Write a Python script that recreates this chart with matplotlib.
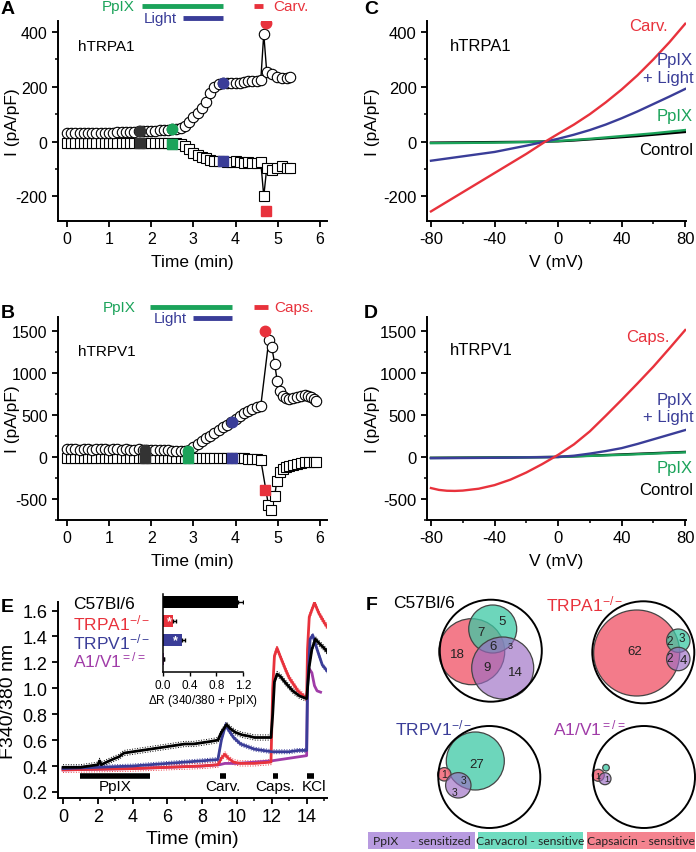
import matplotlib
matplotlib.use('Agg')
import matplotlib.pyplot as plt
from matplotlib.patches import Circle, Rectangle
from matplotlib.ticker import MultipleLocator, FormatStrFormatter

plt.rcParams['font.family'] = ['Liberation Sans', 'DejaVu Sans']
plt.rcParams['mathtext.fontset'] = 'custom'
plt.rcParams['mathtext.rm'] = 'Liberation Sans'
plt.rcParams['mathtext.it'] = 'Liberation Sans:italic'
plt.rcParams['mathtext.bf'] = 'Liberation Sans:bold'
plt.rcParams['mathtext.default'] = 'regular'
plt.rcParams['axes.unicode_minus'] = False

# ---------------- DATA ----------------
# Panel A (hTRPA1 time course)
a_t = [0.0, 0.1, 0.2, 0.3, 0.4, 0.5, 0.6, 0.7, 0.8, 0.9,
       1.0, 1.1, 1.2, 1.3, 1.4, 1.5, 1.6, 1.7, 1.8, 1.9,
       2.0, 2.1, 2.2, 2.3, 2.4, 2.5, 2.6, 2.7, 2.8, 2.9,
       3.0, 3.1, 3.2, 3.3, 3.4, 3.5, 3.6, 3.7, 3.8, 3.9,
       4.0, 4.1, 4.2, 4.3, 4.4, 4.5, 4.6,
       4.67, 4.74, 4.86, 4.98, 5.1, 5.21, 5.29]
a_circ = [30, 30, 30, 31, 31, 31, 32, 32, 32, 33,
          33, 33, 34, 34, 35, 35, 36, 37, 38, 38,
          39, 40, 41, 42, 43, 45, 45, 50, 58, 70,
          88, 105, 122, 145, 178, 200, 210, 213, 212, 213,
          214, 215, 218, 220, 222, 222, 225,
          393, 255, 245, 235, 233, 233, 237]
a_sq = [-4, -5, -4, -5, -5, -4, -5, -5, -4, -5,
        -5, -4, -5, -5, -4, -5, -5, -5, -5, -4,
        -5, -5, -5, -6, -6, -8, -7, -10, -17, -28,
        -40, -48, -55, -60, -67, -72, -72, -70, -73, -75,
        -72, -76, -78, -75, -80, -78, -75,
        -200, -98, -105, -95, -91, -95, -97]
a_fill_t = [1.73, 2.49, 3.70]
a_fill_circ = [38, 45, 213]
a_fill_sq = [-5, -8, -70]
a_stim_t = 4.72
a_stim_circ = 433
a_stim_sq = -253

# Panel B (hTRPV1 time course)
b_t = [0.0, 0.1, 0.2, 0.3, 0.4, 0.5, 0.6, 0.7, 0.8, 0.9,
       1.0, 1.1, 1.2, 1.3, 1.4, 1.5, 1.6, 1.7, 1.8, 1.9,
       2.0, 2.1, 2.2, 2.3, 2.4, 2.5, 2.6, 2.7, 2.8, 2.9,
       3.0, 3.1, 3.2, 3.3, 3.4, 3.5, 3.6, 3.7, 3.8, 3.9,
       4.0, 4.1, 4.2, 4.3, 4.4, 4.5, 4.6,
       4.79, 4.86, 4.93, 4.99, 5.05, 5.12, 5.2, 5.28, 5.37, 5.47,
       5.56, 5.64, 5.72, 5.8, 5.86, 5.92]
b_circ = [95, 90, 96, 86, 92, 97, 88, 93, 90, 96,
          88, 92, 94, 85, 91, 88, 86, 92, 88, 85,
          86, 82, 84, 80, 78, 76, 74, 72, 70, 80,
          120, 150, 190, 225, 255, 290, 325, 357, 385, 417,
          455, 490, 520, 545, 570, 590, 610,
          1390, 1310, 1105, 900, 786, 726, 700, 690, 700, 714,
          730, 738, 725, 714, 690, 670]
b_sq_t = [0.0, 0.1, 0.2, 0.3, 0.4, 0.5, 0.6, 0.7, 0.8, 0.9,
          1.0, 1.1, 1.2, 1.3, 1.4, 1.5, 1.6, 1.7, 1.8, 1.9,
          2.0, 2.1, 2.2, 2.3, 2.4, 2.5, 2.6, 2.7, 2.8, 2.9,
          3.0, 3.1, 3.2, 3.3, 3.4, 3.5, 3.6, 3.7, 3.8, 3.9,
          4.0, 4.1, 4.2, 4.3, 4.4, 4.5, 4.6,
          4.78, 4.85, 4.93, 4.98, 5.05, 5.12, 5.2, 5.28, 5.37, 5.47,
          5.56, 5.66, 5.75, 5.85, 5.92]
b_sq = [-12, -15, -13, -16, -14, -12, -15, -14, -13, -16,
        -14, -13, -15, -14, -16, -13, -15, -14, -13, -15,
        -14, -15, -13, -16, -14, -15, -13, -14, -16, -15,
        -14, -16, -15, -14, -16, -15, -17, -16, -15, -18,
        -17, -18, -16, -20, -22, -25, -36,
        -570, -630, -464, -285, -179, -140, -119, -107, -95, -83,
        -72, -65, -60, -60, -60]
b_fill_t = [1.85, 2.87, 3.91]
b_fill_circ = [88, 68, 417]
b_fill_sq = [-15, -15, -15]
b_stim_t = 4.71
b_stim_circ = 1500
b_stim_sq = -393

# Panel C (hTRPA1 I-V)
c_v = [-80, -60, -40, -20, -8, 0, 10, 20, 30, 40, 50, 60, 70, 80]
c_carv = [-255, -185, -115, -45, 0, 28, 62, 100, 143, 190, 242, 300, 362, 430]
c_light = [-70, -54, -38, -15, 0, 10, 25, 42, 62, 85, 110, 137, 164, 192]
c_ppix = [-6, -5, -4, -2, 0, 2, 6, 10, 15, 20, 25, 30, 36, 42]
c_ctrl = [-4, -3, -2, -1, 0, 1, 4, 8, 12, 16, 20, 25, 30, 35]

# Panel D (hTRPV1 I-V)
d_v = [-80, -75, -70, -65, -60, -50, -40, -30, -20, -10, 0, 10, 20, 30, 40, 50, 60, 70, 80]
d_caps = [-370, -392, -402, -404, -400, -378, -335, -270, -185, -85, 25, 150, 305, 490, 680,
          875, 1075, 1290, 1510]
d_v2 = [-80, -40, 0, 10, 20, 30, 40, 50, 60, 70, 80]
d_light = [-15, -10, 0, 15, 40, 70, 105, 155, 210, 265, 320]
d_v3 = [-80, -40, 0, 40, 80]
d_ppix = [-12, -8, 0, 25, 55]
d_ctrl = [-10, -6, 0, 30, 60]

# Panel E (Ca imaging)
e_black_t = [0, 0.5, 1.0, 1.5, 2.0, 2.1, 2.2, 2.5, 3.0, 3.2, 3.5, 4.0, 4.5, 5.0, 5.5, 6.0,
             6.5, 7.0, 7.5, 8.0, 8.5, 8.9, 9.1, 9.4, 9.6, 9.9, 10.3, 10.7, 11.0, 11.5, 11.95,
             12.05, 12.15, 12.3, 12.5, 12.8, 13.2, 13.6, 14.0, 14.05, 14.15, 14.3, 14.5,
             14.7, 15.0, 15.2]
e_black = [0.39, 0.39, 0.39, 0.40, 0.41, 0.44, 0.41, 0.43, 0.46, 0.47, 0.50, 0.51, 0.52, 0.53,
           0.54, 0.55, 0.56, 0.57, 0.57, 0.58, 0.59, 0.60, 0.66, 0.72, 0.69, 0.66, 0.64, 0.63,
           0.62, 0.62, 0.62, 0.80, 1.05, 1.11, 1.09, 1.04, 0.98, 0.94, 0.92, 1.00, 1.17, 1.30,
           1.38, 1.35, 1.31, 1.28]
e_blue_t = [0, 2, 4, 6, 8, 8.9, 9.1, 9.35, 9.5, 9.8, 10.2, 10.6, 11.0, 11.5, 12.0, 12.5,
            13.0, 13.5, 14.0, 14.05, 14.2, 14.35, 14.6, 14.9, 15.2]
e_blue = [0.38, 0.39, 0.40, 0.42, 0.44, 0.45, 0.60, 0.72, 0.68, 0.62, 0.57, 0.55, 0.53, 0.52,
          0.51, 0.51, 0.51, 0.52, 0.52, 1.00, 1.38, 1.41, 1.30, 1.18, 1.13]
e_red_t = [0, 2, 4, 6, 8, 8.9, 9.1, 9.3, 9.5, 9.8, 10.2, 11.0, 11.95, 12.05, 12.15, 12.3,
           12.5, 12.8, 13.0, 13.5, 14.0, 14.05, 14.15, 14.45, 14.7, 15.0, 15.2]
e_red = [0.37, 0.375, 0.38, 0.39, 0.40, 0.41, 0.46, 0.49, 0.46, 0.43, 0.42, 0.42, 0.43, 1.00,
         1.25, 1.31, 1.24, 1.14, 1.08, 0.98, 0.92, 1.30, 1.55, 1.66, 1.58, 1.51, 1.47]
e_purple_t = [0, 2, 4, 6, 8, 9, 9.3, 10, 11, 12, 13, 13.5, 14.0, 14.05, 14.15, 14.3, 14.45,
              14.6, 14.8]
e_purple = [0.37, 0.375, 0.38, 0.39, 0.40, 0.41, 0.42, 0.42, 0.43, 0.44, 0.46, 0.47, 0.48,
            1.05, 1.15, 1.12, 1.02, 0.98, 0.97]
e_sem_black = 0.02
e_sem_red = 0.02
e_sem_blue = 0.015
e_events = ['PpIX', 'Carv.', 'Caps.', 'KCl']
e_event_start = [1.0, 9.0, 12.05, 14.0]
e_event_end = [5.0, 9.35, 12.35, 14.45]
e_event_lbl_x = [3.0, 9.2, 12.2, 14.4]
e_groups = ['C57Bl/6', r'TRPA1$^{-/-}$', r'TRPV1$^{-/-}$', r'A1/V1$^{=/=}$']
e_dR = [1.13, 0.15, 0.28, 0.02]
e_dR_sem = [0.07, 0.05, 0.05, 0.0]

# Panel F (Venn counts)
f_titles = ['C57Bl/6', r'TRPA1$^{-/-}$', r'TRPV1$^{-/-}$', r'A1/V1$^{=/=}$']
f_c57_counts = ['5', '7', '6', '3', '18', '9', '14']
f_a1_counts = ['62', '2', '3', '2', '4']
f_v1_counts = ['27', '1', '3', '3']
f_dko_counts = ['1', '1']
f_legend = ['PpIX    - sensitized', 'Carvacrol - sensitive', 'Capsaicin - sensitive']

# ---------------- STYLE ----------------
GREEN = '#1ba35a'
BLUE = '#3a3d98'
RED = '#e8323c'
PURPLE = '#a03ca8'
DARK = '#333333'
W, H = 696, 853


def box(l, t, r, b):
    return [l / W, 1 - b / H, (r - l) / W, (b - t) / H]


def fp(x, y):
    return x / W, 1 - y / H


def style(ax, fs):
    for s in ['top', 'right']:
        ax.spines[s].set_visible(False)
    for s in ['left', 'bottom']:
        ax.spines[s].set_linewidth(1.4)
    ax.tick_params(which='major', direction='out', length=4.5, width=1.3,
                   labelsize=fs, pad=3)
    ax.tick_params(which='minor', direction='out', length=2.5, width=1.1)


def labels(ax, xl, yl, fs, xoff, yoff, hpx, wpx):
    ax.set_xlabel(xl, fontsize=fs)
    ax.set_ylabel(yl, fontsize=fs)
    ax.xaxis.set_label_coords(0.5, -xoff / hpx)
    ax.yaxis.set_label_coords(-yoff / wpx, 0.5)
    ax.xaxis.label.set_verticalalignment('center')
    ax.yaxis.label.set_verticalalignment('center')


fig = plt.figure(figsize=(6.96, 8.53), dpi=100)

# ---------------- Panel A ----------------
axA = fig.add_axes(box(58, 22, 327, 222))
style(axA, 11.5)
axA.plot(a_t, a_sq, '-s', color='k', lw=1, ms=6.5, mfc='white', mec='k', mew=0.8, zorder=2)
axA.plot(a_t, a_circ, '-o', color='k', lw=1, ms=7.5, mfc='white', mec='k', mew=0.8, zorder=2)
for t, c, s, col in zip(a_fill_t, a_fill_circ, a_fill_sq, [DARK, GREEN, BLUE]):
    axA.plot([t], [c], 'o', color=col, ms=7.5, mec=col, zorder=3)
    axA.plot([t], [s], 's', color=col, ms=6.5, mec=col, zorder=3)
axA.plot([a_stim_t], [a_stim_circ], 'o', color=RED, ms=7.5, mec=RED, zorder=3)
axA.plot([a_stim_t], [a_stim_sq], 's', color=RED, ms=6.5, mec=RED, zorder=3)
axA.set_xlim(-0.21, 6.17)
axA.set_ylim(-290, 440)
axA.set_xticks(range(0, 7))
axA.set_yticks([-200, 0, 200, 400])
axA.yaxis.set_minor_locator(MultipleLocator(100))
labels(axA, 'Time (min)', 'I (pA/pF)', 12.5, 40, 46, 200, 269)
axA.text(0.26, 349, 'hTRPA1', fontsize=11, va='center', ha='left')
kw = dict(clip_on=False, solid_capstyle='butt', lw=3.5)
axA.plot([1.78, 3.70], [495, 495], color=GREEN, **kw)
axA.plot([2.75, 3.70], [451, 451], color=BLUE, **kw)
axA.plot([4.45, 4.65], [495, 495], color=RED, **kw)
axA.text(1.61, 495, 'PpIX', color=GREEN, ha='right', va='center', fontsize=11)
axA.text(2.62, 451, 'Light', color=BLUE, ha='right', va='center', fontsize=11)
axA.text(4.90, 495, 'Carv.', color=RED, ha='left', va='center', fontsize=11)

# ---------------- Panel B ----------------
axB = fig.add_axes(box(58, 318, 327, 521))
style(axB, 11.5)
axB.plot(b_sq_t, b_sq, '-s', color='k', lw=1, ms=6.5, mfc='white', mec='k', mew=0.8, zorder=2)
axB.plot(b_t, b_circ, '-o', color='k', lw=1, ms=7.5, mfc='white', mec='k', mew=0.8, zorder=2)
for t, c, s, col in zip(b_fill_t, b_fill_circ, b_fill_sq, [DARK, GREEN, BLUE]):
    axB.plot([t], [c], 'o', color=col, ms=7.5, mec=col, zorder=3)
    axB.plot([t], [s], 's', color=col, ms=6.5, mec=col, zorder=3)
axB.plot([b_stim_t], [b_stim_circ], 'o', color=RED, ms=7.5, mec=RED, zorder=3)
axB.plot([b_stim_t], [b_stim_sq], 's', color=RED, ms=6.5, mec=RED, zorder=3)
axB.set_xlim(-0.21, 6.17)
axB.set_ylim(-750, 1665)
axB.set_xticks(range(0, 7))
axB.set_yticks([-500, 0, 500, 1000, 1500])
axB.yaxis.set_minor_locator(MultipleLocator(250))
labels(axB, 'Time (min)', 'I (pA/pF)', 12.5, 41, 46, 203, 269)
axB.text(0.26, 1264, 'hTRPV1', fontsize=11, va='center', ha='left')
axB.plot([1.97, 3.91], [1784, 1784], color=GREEN, **kw)
axB.plot([3.00, 3.91], [1654, 1654], color=BLUE, **kw)
axB.plot([4.45, 4.77], [1784, 1784], color=RED, **kw)
axB.text(1.63, 1784, 'PpIX', color=GREEN, ha='right', va='center', fontsize=11)
axB.text(2.84, 1654, 'Light', color=BLUE, ha='right', va='center', fontsize=11)
axB.text(4.93, 1784, 'Caps.', color=RED, ha='left', va='center', fontsize=11)

# ---------------- Panel C ----------------
axC = fig.add_axes(box(427, 22, 686, 222))
style(axC, 12)
axC.plot(c_v, c_ctrl, color='k', lw=1.7)
axC.plot(c_v, c_ppix, color=GREEN, lw=1.7)
axC.plot(c_v, c_light, color=BLUE, lw=1.7)
axC.plot(c_v, c_carv, color=RED, lw=1.7)
axC.set_xlim(-82.5, 80.5)
axC.set_ylim(-290, 440)
axC.set_xticks([-80, -40, 0, 40, 80])
axC.xaxis.set_minor_locator(MultipleLocator(20))
axC.set_yticks([-200, 0, 200, 400])
axC.yaxis.set_minor_locator(MultipleLocator(100))
labels(axC, 'V (mV)', 'I (pA/pF)', 12.5, 41, 55, 200, 259)
axC.text(-68, 349, 'hTRPA1', fontsize=12, va='center', ha='left')
axC.text(68.7, 422, 'Carv.', color=RED, fontsize=12, ha='right', va='center')
axC.text(85, 298, 'PpIX', color=BLUE, fontsize=12, ha='right', va='center')
axC.text(85, 233, '+ Light', color=BLUE, fontsize=12, ha='right', va='center')
axC.text(85, 95, 'PpIX', color=GREEN, fontsize=12, ha='right', va='center')
axC.text(85, -29, 'Control', color='k', fontsize=12, ha='right', va='center')

# ---------------- Panel D ----------------
axD = fig.add_axes(box(427, 318, 686, 521))
style(axD, 12)
axD.plot(d_v3, d_ctrl, color='k', lw=1.7)
axD.plot(d_v3, d_ppix, color=GREEN, lw=1.7)
axD.plot(d_v2, d_light, color=BLUE, lw=1.7)
axD.plot(d_v, d_caps, color=RED, lw=1.7)
axD.set_xlim(-82.5, 80.5)
axD.set_ylim(-750, 1665)
axD.set_xticks([-80, -40, 0, 40, 80])
axD.xaxis.set_minor_locator(MultipleLocator(20))
axD.set_yticks([-500, 0, 500, 1000, 1500])
axD.yaxis.set_minor_locator(MultipleLocator(250))
labels(axD, 'V (mV)', 'I (pA/pF)', 12.5, 41, 55, 203, 259)
axD.text(-68, 1274, 'hTRPV1', fontsize=12, va='center', ha='left')
axD.text(70, 1429, 'Caps.', color=RED, fontsize=12, ha='right', va='center')
axD.text(85, 679, 'PpIX', color=BLUE, fontsize=12, ha='right', va='center')
axD.text(85, 476, '+ Light', color=BLUE, fontsize=12, ha='right', va='center')
axD.text(85, -131, 'PpIX', color=GREEN, fontsize=12, ha='right', va='center')
axD.text(85, -393, 'Control', color='k', fontsize=12, ha='right', va='center')

# ---------------- Panel E ----------------
axE = fig.add_axes(box(58, 603, 327, 799))
style(axE, 13)
for tt, yy, col, sem in [(e_black_t, e_black, 'k', e_sem_black),
                         (e_blue_t, e_blue, BLUE, e_sem_blue),
                         (e_red_t, e_red, RED, e_sem_red)]:
    axE.plot(tt, [v + sem for v in yy], ':', color=col, lw=0.7)
    axE.plot(tt, [v - sem for v in yy], ':', color=col, lw=0.7)
axE.plot(e_purple_t, e_purple, color=PURPLE, lw=2)
axE.plot(e_red_t, e_red, color=RED, lw=2)
axE.plot(e_blue_t, e_blue, color=BLUE, lw=2)
axE.plot(e_black_t, e_black, color='k', lw=2)
axE.set_xlim(-0.29, 15.17)
axE.set_ylim(0.153, 1.666)
axE.set_xticks(range(0, 15, 2))
axE.xaxis.set_minor_locator(MultipleLocator(1))
axE.set_yticks([0.2, 0.4, 0.6, 0.8, 1.0, 1.2, 1.4, 1.6])
axE.yaxis.set_major_formatter(FormatStrFormatter('%.1f'))
labels(axE, 'Time (min)', 'F340/380 nm', 14, 41, 49, 196, 269)
for s, e, lx, name in zip(e_event_start, e_event_end, e_event_lbl_x, e_events):
    axE.plot([s, e], [0.323, 0.323], color='k', lw=4, solid_capstyle='butt')
    axE.text(lx, 0.246, name, ha='center', va='center', fontsize=11)
for i, (g, col) in enumerate(zip(e_groups, ['k', RED, BLUE, PURPLE])):
    fig.text(*fp(73, [605, 623, 642, 660][i]), g, color=col, fontsize=12.5, va='center', ha='left')

# Inset
axI = fig.add_axes(box(163, 595, 243, 673))
for s in ['top', 'right']:
    axI.spines[s].set_visible(False)
for s in ['left', 'bottom']:
    axI.spines[s].set_linewidth(1.1)
cols = ['k', RED, BLUE, PURPLE]
pos = [0, 1, 2, 3]
axI.barh(pos, e_dR, height=0.62, color=cols, xerr=[[0, 0, 0, 0], e_dR_sem],
         error_kw=dict(ecolor='k', elinewidth=1, capsize=1.5, capthick=1))
axI.text(0.10, 1, '*', color='white', fontsize=9, ha='center', va='center', fontweight='bold')
axI.text(0.18, 2, '*', color='white', fontsize=9, ha='center', va='center', fontweight='bold')
axI.set_xlim(0, 1.2)
axI.set_ylim(3.68, -0.42)
axI.set_yticks([])
axI.set_xticks([0.0, 0.4, 0.8, 1.2])
axI.xaxis.set_major_formatter(FormatStrFormatter('%.1f'))
axI.tick_params(axis='x', direction='out', length=3, width=1, labelsize=8.5, pad=2)
axI.set_xlabel(r'$\Delta$R (340/380 + PpIX)', fontsize=8.5, labelpad=1)

# ---------------- Panel F ----------------
axF = fig.add_axes(box(348, 588, 696, 853))
axF.set_xlim(348, 696)
axF.set_ylim(853, 588)
axF.axis('off')
VR = '#f26d7d'
VT = '#3cc9a4'
VP = '#9b6cc4'
EC = '#444444'


def circ(x, y, r, fc, a):
    axF.add_patch(Circle((x, y), r, facecolor=fc, alpha=a, edgecolor='none'))
    axF.add_patch(Circle((x, y), r, facecolor='none', edgecolor=EC, lw=0.9))


def outer(x, y, r):
    axF.add_patch(Circle((x, y), r, facecolor='none', edgecolor='k', lw=1.4, zorder=5))


# C57Bl/6
circ(471.7, 652.7, 33, VR, 0.9)
circ(492.7, 630.0, 24, VT, 0.75)
circ(502.7, 669.0, 31, VP, 0.65)
outer(490.8, 651.7, 51)
for txt, (x, y) in zip(f_c57_counts, [(501.7, 621.7), (480.7, 633.3), (493.3, 646.7), (510.5, 646.7),
                                      (457.3, 655), (486.7, 668.3), (515, 673.3)]):
    axF.text(x, y, txt, ha='center', va='center', fontsize=6.5 if txt == '3' else 9.5, color='#222', zorder=6)
# TRPA1-/-
circ(636.7, 654.0, 43, VR, 0.9)
circ(678.3, 641.7, 11.7, VT, 0.75)
circ(678.3, 660.0, 11.7, VP, 0.65)
outer(643.3, 653.3, 51)
for txt, (x, y) in zip(f_a1_counts, [(635, 651.7), (669.5, 641.7), (681.7, 639.5), (670, 659.5), (683, 661)]):
    axF.text(x, y, txt, ha='center', va='center', fontsize=9.5 if txt in ('62', '4') else 8.5, color='#222', zorder=6)
# TRPV1-/-
circ(475.3, 762.0, 29, VT, 0.75)
circ(444.3, 775.3, 6.7, VR, 0.9)
circ(458.3, 786.3, 12.7, VP, 0.65)
outer(489.3, 778.0, 51)
for txt, (x, y) in zip(f_v1_counts, [(476.7, 764.7), (444.3, 775.3), (463.5, 780.7), (455, 793)]):
    axF.text(x, y, txt, ha='center', va='center', fontsize=9.5 if txt == '27' else 7.5, color='#222', zorder=6)
# A1/V1=/=
circ(598.3, 776.3, 6.0, VR, 0.9)
circ(606.0, 768.7, 3.3, VT, 0.75)
circ(605.0, 779.7, 6.0, VP, 0.65)
outer(644.0, 778.0, 51)
for txt, (x, y) in zip(f_dko_counts, [(598.3, 776.3), (607, 779.7)]):
    axF.text(x, y, txt, ha='center', va='center', fontsize=6.5, color='#222', zorder=6)

for t, (x, y), col in zip(f_titles, [(393, 603), (546, 604), (395, 728), (553, 728)],
                          ['k', RED, BLUE, PURPLE]):
    axF.text(x, y, t, color=col, fontsize=12.5, ha='left', va='center')

for txt, (x0, x1), col in zip(f_legend, [(368, 475), (478, 583), (587, 695)],
                              ['#b89be0', '#6fdcc0', '#f4838f']):
    axF.add_patch(Rectangle((x0, 833), x1 - x0, 17, facecolor=col, edgecolor='none'))
    axF.text((x0 + x1) / 2, 841.5, txt, ha='center', va='center', fontsize=8.7,
             color='#222', family=['Lato', 'DejaVu Sans'])

# Panel letters
for L, (x, y) in zip('ABCDEF', [(1, 10), (1, 314), (364, 10), (364, 314), (1, 607), (366, 606)]):
    fig.text(*fp(x, y), L, fontsize=14, fontweight='bold', ha='left', va='center')

fig.savefig('out.png', dpi=100)
